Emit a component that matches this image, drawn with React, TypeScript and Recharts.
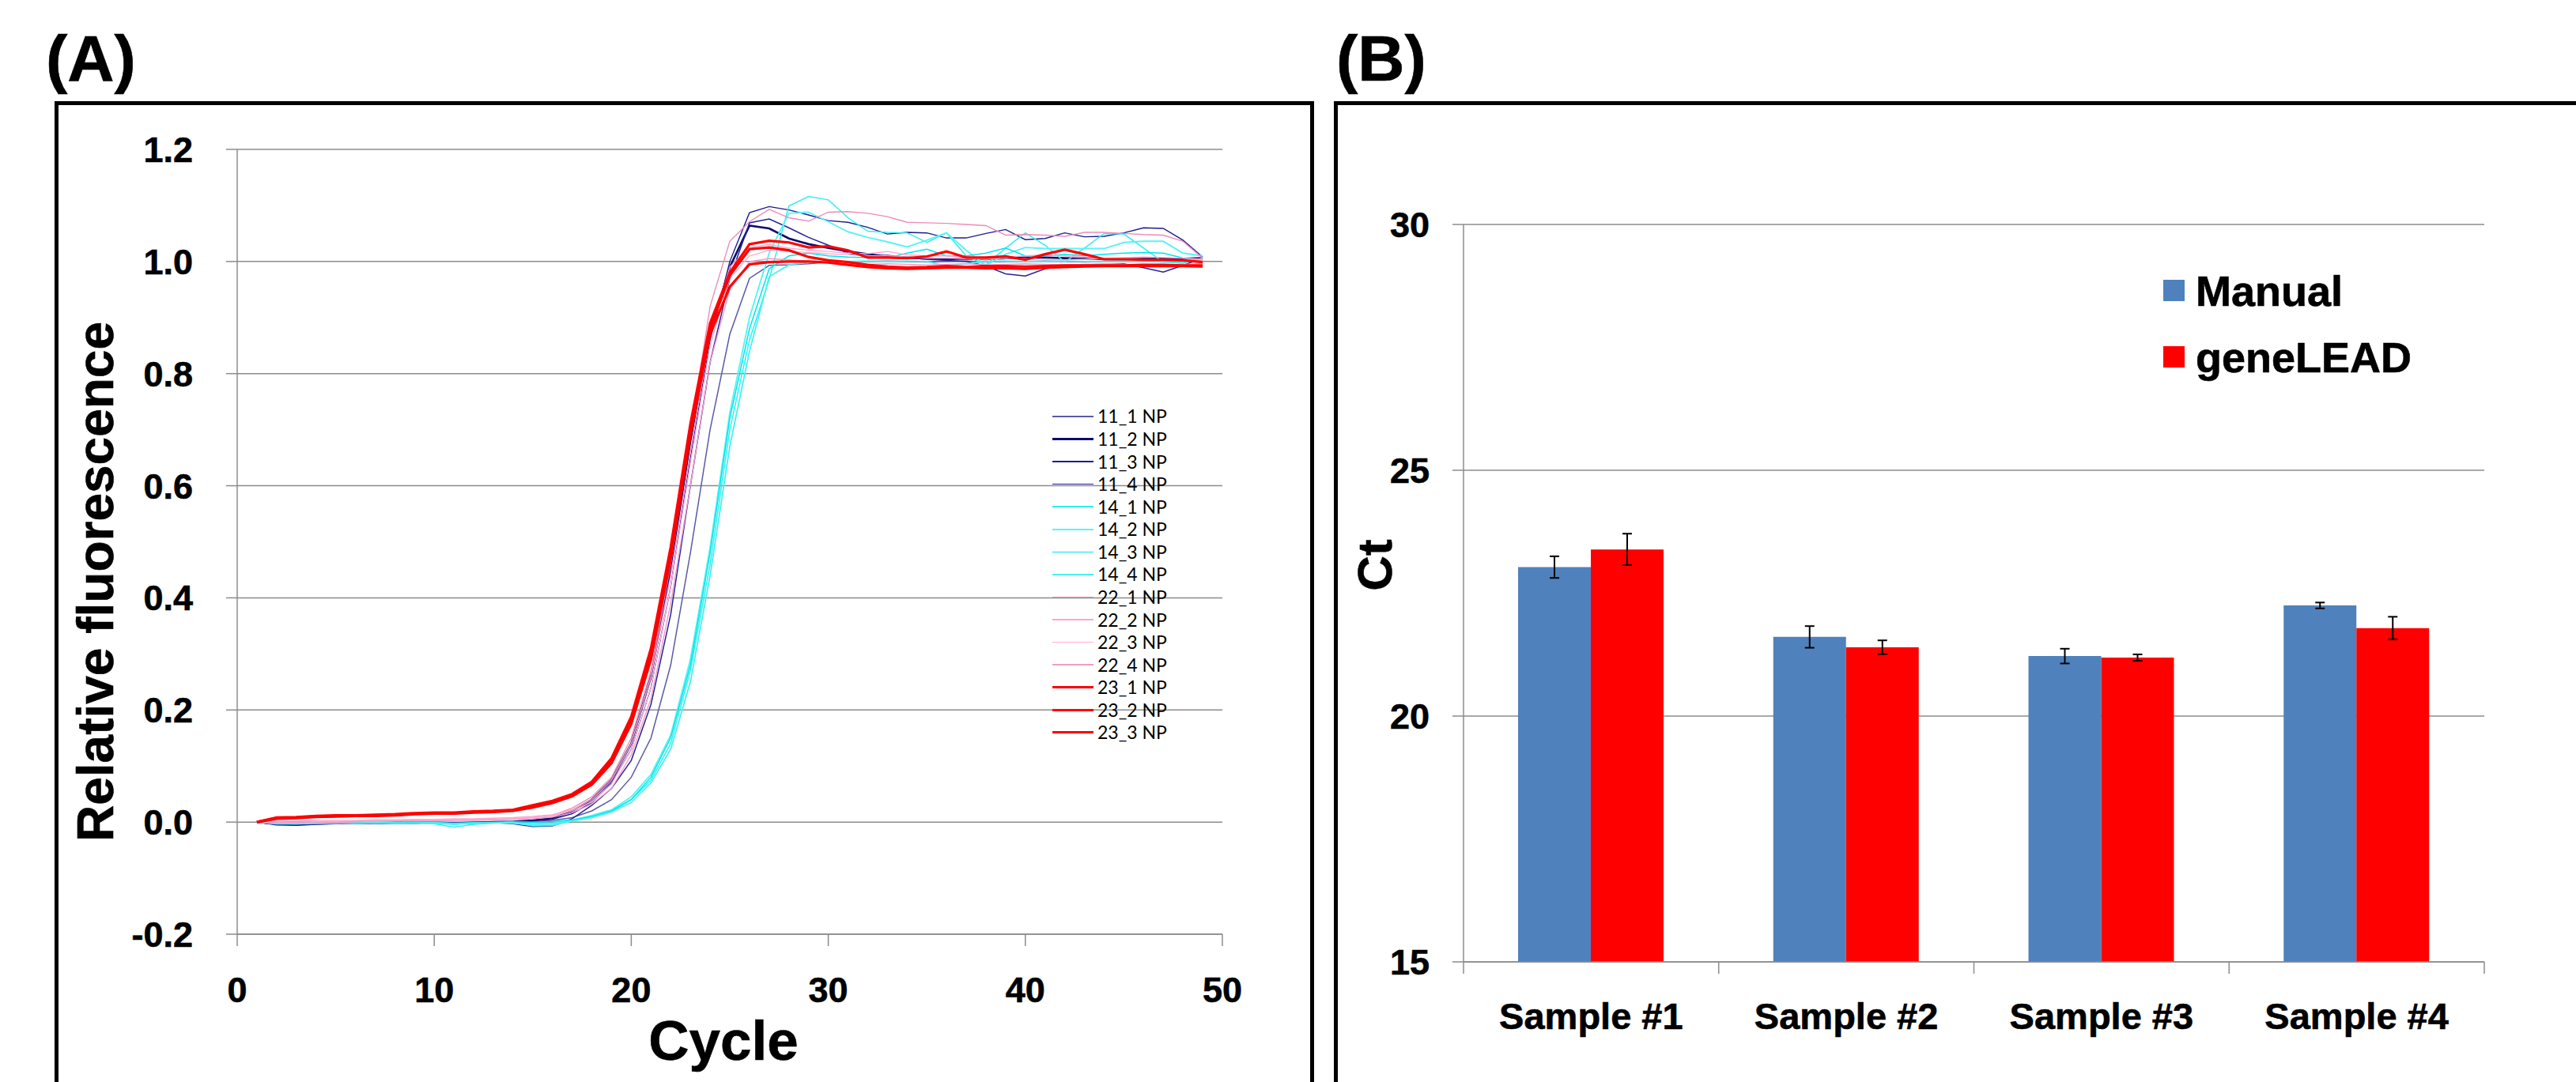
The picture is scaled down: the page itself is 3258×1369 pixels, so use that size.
import { LineChart, Line, XAxis, YAxis, CartesianGrid, BarChart, Bar, ErrorBar } from 'recharts';

const FONT = "'Liberation Sans', Arial, Helvetica, sans-serif";
const GRID = '#8c8c8c';

// ---- (A) amplification curves ----
const cycles = [
  1, 2, 3, 4, 5, 6, 7, 8, 9, 10, 11, 12, 13, 14, 15, 16, 17, 18, 19, 20, 21, 22, 23, 24, 25,
  26, 27, 28, 29, 30, 31, 32, 33, 34, 35, 36, 37, 38, 39, 40, 41, 42, 43, 44, 45, 46, 47, 48, 49,
];

const s11_1 = [
  0, -0.004, -0.005, -0.003, -0.002, -0.003, -0.002, -0.002, -0.001, -0.002,
  -0.003, -0.002, -0.001, 0.0, 0.001, 0.003, 0.008, 0.02, 0.04, 0.08,
  0.15, 0.28, 0.48, 0.7, 0.87, 0.97, 0.993, 0.994, 0.996, 0.999,
  1.0, 1.0, 1.001, 1.0, 0.999, 1.0, 1.001, 0.999, 1.0, 1.0,
  1.001, 1.0, 0.999, 1.0, 1.001, 1.0, 1.0, 1.001, 1.003,
];
const s11_2 = [
  0, -0.003, -0.004, -0.003, -0.002, -0.002, -0.002, -0.001, -0.001, -0.001,
  -0.002, -0.001, 0.0, 0.001, 0.003, 0.007, 0.02, 0.04, 0.075, 0.14,
  0.26, 0.45, 0.68, 0.87, 0.99, 1.064, 1.059, 1.041, 1.031, 1.024,
  1.018, 1.013, 1.009, 1.007, 1.005, 1.004, 1.005, 1.004, 1.006, 1.007,
  1.007, 1.006, 1.005, 1.004, 1.004, 1.005, 1.005, 1.005, 1.006,
];
const s11_3 = [
  0, -0.005, -0.006, -0.004, -0.003, -0.003, -0.003, -0.002, -0.002, -0.001,
  -0.002, -0.003, -0.001, 0.0, 0.002, 0.005, 0.015, 0.035, 0.07, 0.13,
  0.24, 0.42, 0.65, 0.86, 1.0, 1.087, 1.098, 1.092, 1.083, 1.073,
  1.07, 1.061, 1.049, 1.052, 1.051, 1.042, 1.042, 1.05, 1.057, 1.039,
  1.041, 1.051, 1.044, 1.045, 1.051, 1.06, 1.059, 1.038, 1.008,
];
const s11_4 = [
  0, -0.004, -0.004, -0.003, -0.003, -0.002, -0.002, -0.002, -0.002, -0.001,
  -0.001, -0.002, -0.001, -0.003, -0.008, -0.007, 0.006, 0.03, 0.06, 0.11,
  0.21, 0.37, 0.6, 0.82, 0.97, 1.069, 1.076, 1.06, 1.043, 1.029,
  1.015, 1.009, 1.011, 1.007, 1.004, 1.002, 1.0, 0.992, 0.978, 0.974,
  0.987, 0.991, 0.994, 0.995, 0.996, 0.989, 0.981, 0.993, 1.006,
];
const s14_1 = [
  0, -0.002, -0.003, -0.002, -0.002, -0.001, -0.002, -0.001, -0.001, -0.003,
  -0.009, -0.004, -0.002, -0.001, -0.007, -0.006, 0.002, 0.01, 0.02, 0.04,
  0.075, 0.14, 0.27, 0.46, 0.7, 0.86, 0.968, 1.099, 1.116, 1.11,
  1.078, 1.054, 1.052, 1.051, 1.034, 1.051, 1.01, 0.994, 1.024, 1.051,
  1.029, 0.999, 1.024, 1.05, 1.049, 1.024, 0.999, 0.997, 1.006,
];
const s14_2 = [
  0, -0.003, -0.003, -0.002, -0.001, -0.002, -0.002, -0.002, -0.001, -0.002,
  -0.004, -0.002, -0.001, -0.002, -0.005, -0.004, 0.003, 0.012, 0.022, 0.045,
  0.085, 0.155, 0.29, 0.49, 0.73, 0.9, 1.015, 1.086, 1.088, 1.071,
  1.053, 1.043, 1.035, 1.026, 1.038, 1.051, 1.02, 0.993, 1.013, 1.025,
  1.023, 1.023, 1.023, 1.023, 1.034, 1.036, 1.036, 1.015, 1.01,
];
const s14_3 = [
  0, -0.002, -0.002, -0.001, -0.001, -0.001, 0.0, -0.001, 0.0, -0.001,
  -0.002, -0.001, 0.0, 0.001, 0.0, 0.001, 0.004, 0.01, 0.02, 0.04,
  0.08, 0.15, 0.28, 0.48, 0.72, 0.88, 0.987, 1.01, 1.015, 1.01,
  1.008, 1.007, 1.006, 1.015, 1.022, 1.01, 1.01, 1.015, 1.024, 1.01,
  1.01, 1.013, 1.01, 1.013, 1.015, 1.016, 1.015, 1.006, 1.003,
];
const s14_4 = [
  0, -0.002, -0.003, -0.002, -0.002, -0.002, -0.001, -0.002, -0.002, -0.001,
  -0.003, -0.002, -0.001, -0.001, -0.003, -0.002, 0.002, 0.008, 0.018, 0.035,
  0.07, 0.13, 0.25, 0.44, 0.67, 0.84, 0.973, 0.994, 0.999, 1.0,
  1.0, 1.001, 1.0, 1.001, 1.0, 0.992, 0.996, 1.0, 1.001, 1.0,
  1.0, 1.001, 1.0, 1.0, 1.001, 1.0, 0.999, 1.0, 1.002,
];
const s22_1 = [
  0, 0.001, 0.001, 0.0, -0.002, 0.001, 0.002, 0.002, 0.003, 0.003,
  0.004, 0.004, 0.005, 0.006, 0.008, 0.012, 0.025, 0.045, 0.08, 0.15,
  0.27, 0.46, 0.69, 0.92, 1.036, 1.071, 1.093, 1.078, 1.072, 1.088,
  1.089, 1.086, 1.08, 1.07, 1.069, 1.068, 1.066, 1.064, 1.047, 1.048,
  1.047, 1.045, 1.052, 1.052, 1.05, 1.048, 1.047, 1.036, 1.006,
];
const s22_2 = [
  0, 0.002, 0.002, 0.003, 0.003, 0.003, 0.004, 0.004, 0.005, 0.005,
  0.006, 0.006, 0.007, 0.008, 0.01, 0.013, 0.022, 0.04, 0.075, 0.14,
  0.26, 0.44, 0.66, 0.87, 0.99, 1.025, 1.03, 1.024, 1.02, 1.018,
  1.015, 1.014, 1.018, 1.012, 1.01, 1.01, 1.008, 1.006, 1.008, 1.01,
  1.012, 1.01, 1.008, 1.006, 1.007, 1.008, 1.007, 1.006, 1.004,
];
const s22_3 = [
  0, 0.0, -0.001, 0.001, 0.001, 0.002, 0.002, 0.003, 0.003, 0.004,
  0.004, 0.005, 0.005, 0.006, 0.008, 0.011, 0.02, 0.036, 0.068, 0.13,
  0.24, 0.42, 0.64, 0.85, 0.97, 1.01, 1.02, 1.018, 1.016, 1.014,
  1.012, 1.01, 1.01, 1.008, 1.006, 1.006, 1.005, 1.004, 1.006, 1.005,
  1.004, 1.003, 1.004, 1.005, 1.004, 1.003, 1.002, 1.003, 1.002,
];
const s22_4 = [
  0, -0.001, -0.001, 0.0, 0.0, 0.001, 0.001, 0.002, 0.002, 0.002,
  0.003, 0.003, 0.004, 0.005, 0.006, 0.009, 0.017, 0.032, 0.06, 0.12,
  0.22, 0.39, 0.6, 0.82, 0.95, 1.0, 1.005, 1.003, 1.0, 0.998,
  0.996, 0.995, 0.996, 0.995, 0.994, 0.995, 0.996, 0.994, 0.995, 0.996,
  0.995, 0.994, 0.995, 0.996, 0.995, 0.995, 0.994, 0.995, 0.996,
];
const s23_1 = [
  0, 0.008, 0.009, 0.011, 0.012, 0.012, 0.013, 0.014, 0.016, 0.017,
  0.017, 0.019, 0.02, 0.022, 0.03, 0.038, 0.05, 0.072, 0.114, 0.188,
  0.31, 0.49, 0.71, 0.89, 0.98, 1.031, 1.037, 1.034, 1.025, 1.027,
  1.02, 1.007, 1.007, 1.006, 1.009, 1.018, 1.007, 1.007, 1.009, 1.003,
  1.013, 1.021, 1.013, 1.004, 1.004, 1.003, 1.003, 1.002, 0.999,
];
const s23_2 = [
  0, 0.007, 0.008, 0.01, 0.011, 0.012, 0.012, 0.013, 0.015, 0.016,
  0.016, 0.018, 0.019, 0.021, 0.028, 0.036, 0.048, 0.07, 0.11, 0.182,
  0.3, 0.48, 0.7, 0.88, 0.975, 1.022, 1.025, 1.02, 1.008, 1.002,
  0.999, 0.994, 0.991, 0.989, 0.99, 0.992, 0.99, 0.992, 0.992, 0.991,
  0.992, 0.993, 0.993, 0.993, 0.993, 0.994, 0.994, 0.993, 0.993,
];
const s23_3 = [
  0, 0.006, 0.007, 0.009, 0.01, 0.011, 0.011, 0.012, 0.014, 0.015,
  0.015, 0.017, 0.018, 0.02, 0.026, 0.034, 0.046, 0.067, 0.105, 0.175,
  0.29, 0.47, 0.69, 0.87, 0.955, 0.995, 0.999, 1.0, 1.0, 0.998,
  0.994, 0.99, 0.988, 0.987, 0.988, 0.989, 0.989, 0.988, 0.988, 0.987,
  0.989, 0.99, 0.991, 0.992, 0.992, 0.992, 0.992, 0.992, 0.991,
];

const seriesNames = [
  '11_1 NP', '11_2 NP', '11_3 NP', '11_4 NP',
  '14_1 NP', '14_2 NP', '14_3 NP', '14_4 NP',
  '22_1 NP', '22_2 NP', '22_3 NP', '22_4 NP',
  '23_1 NP', '23_2 NP', '23_3 NP',
];
const seriesValues = [
  s11_1, s11_2, s11_3, s11_4,
  s14_1, s14_2, s14_3, s14_4,
  s22_1, s22_2, s22_3, s22_4,
  s23_1, s23_2, s23_3,
];
const seriesColors = [
  '#5a5aa8', '#0c0c6e', '#1c1c8e', '#24249a',
  '#30eef0', '#5cf2f2', '#00e4ee', '#4cf0f0',
  '#ec8cb8', '#ffa4ce', '#ffaed4', '#f39ac6',
  '#ff0000', '#ff0000', '#ff0000',
];
const seriesWidths = [1.5, 2.6, 1.4, 1.5, 1.5, 1.9, 1.5, 1.9, 1.4, 1.4, 1.4, 1.4, 3.2, 3.2, 3.2];

const yTicksA = [-0.2, 0, 0.2, 0.4, 0.6, 0.8, 1.0, 1.2];
const xTicksA = [0, 10, 20, 30, 40, 50];

const curveData = cycles.map((cycle, i) => {
  const row: Record<string, number> = { cycle };
  seriesValues.forEach((vals, j) => {
    row[`s${j}`] = vals[i];
  });
  return row;
});

// ---- (B) Ct comparison ----
const samples = ['Sample #1', 'Sample #2', 'Sample #3', 'Sample #4'];
const manualCt = [23.03, 21.61, 21.22, 22.25];
const manualSd = [0.22, 0.22, 0.15, 0.06];
const geneleadCt = [23.39, 21.4, 21.19, 21.79];
const geneleadSd = [0.32, 0.14, 0.065, 0.23];
const yTicksB = [15, 20, 25, 30];

const barNames = ['Manual', 'geneLEAD'];
const barColors = ['#4f81bd', '#ff0000'];

const ctData = samples.map((sample, i) => ({
  sample,
  manual: manualCt[i],
  manualErr: manualSd[i],
  genelead: geneleadCt[i],
  geneleadErr: geneleadSd[i],
}));

// a thin stroke thickens the bold face a little, like the original's heavy labels
const tickFont = { fill: '#000', fontSize: 45, fontWeight: 700, fontFamily: FONT, stroke: '#000', strokeWidth: 0.6 };

const renderSampleTick = (props: any) => {
  const { x, y, payload, index } = props;
  const half = payload?.offset ?? 0;
  const isLast = index === samples.length - 1;
  return (
    <g>
      <line x1={x - half} y1={y} x2={x - half} y2={y + 15} stroke={GRID} strokeWidth={1.5} />
      {isLast && <line x1={x + half} y1={y} x2={x + half} y2={y + 15} stroke={GRID} strokeWidth={1.5} />}
      <text
        x={x}
        y={y + 85}
        textAnchor="middle"
        fill="#000"
        stroke="#000"
        strokeWidth={0.6}
        fontSize={47}
        fontWeight={700}
        fontFamily={FONT}
      >
        {payload.value}
      </text>
    </g>
  );
};

const heavy = { WebkitTextStroke: '0.6px #000' } as const;

export default function App() {
  return (
    <div
      style={{
        position: 'absolute',
        left: 0,
        top: 0,
        width: 3258,
        height: 1369,
        overflow: 'hidden',
        background: '#fff',
        fontFamily: FONT,
        color: '#000',
      }}
    >
      {/* panel frames */}
      <div style={{ position: 'absolute', left: 69, top: 128, width: 1593, height: 1400, border: '5px solid #000', boxSizing: 'border-box' }} />
      <div style={{ position: 'absolute', left: 1687, top: 128, width: 1700, height: 1400, border: '5px solid #000', boxSizing: 'border-box' }} />

      {/* panel letters */}
      <div style={{ position: 'absolute', left: 58, top: 33, fontSize: 82, lineHeight: '82px', fontWeight: 700, ...heavy }}>(A)</div>
      <div style={{ position: 'absolute', left: 1690, top: 33, fontSize: 82, lineHeight: '82px', fontWeight: 700, ...heavy }}>(B)</div>

      {/* (A) */}
      <div style={{ position: 'absolute', left: 0, top: 0 }}>
        <LineChart width={1600} height={1369} data={curveData} margin={{ top: 189, right: 54, bottom: 87, left: 150 }}>
          <CartesianGrid vertical={false} stroke={GRID} strokeWidth={1.5} />
          <XAxis
            dataKey="cycle"
            type="number"
            domain={[0, 50]}
            ticks={xTicksA}
            height={100}
            tickSize={15}
            tickMargin={39}
            axisLine={{ stroke: GRID, strokeWidth: 1.5 }}
            tickLine={{ stroke: GRID, strokeWidth: 1.5 }}
            tick={tickFont}
          />
          <YAxis
            type="number"
            domain={[-0.2, 1.2]}
            ticks={yTicksA}
            tickFormatter={(v: number) => v.toFixed(1)}
            width={150}
            tickSize={14}
            tickMargin={42}
            axisLine={{ stroke: GRID, strokeWidth: 1.5 }}
            tickLine={{ stroke: GRID, strokeWidth: 1.5 }}
            tick={tickFont}
          />
          {seriesNames.map((name, j) => (
            <Line
              key={name}
              name={name}
              type="linear"
              dataKey={`s${j}`}
              stroke={seriesColors[j]}
              strokeWidth={seriesWidths[j]}
              dot={false}
              activeDot={false}
              isAnimationActive={false}
            />
          ))}
        </LineChart>
      </div>

      <div
        style={{
          position: 'absolute',
          left: 121,
          top: 736,
          transform: 'translate(-50%, -50%) rotate(-90deg)',
          fontSize: 64,
          lineHeight: '64px',
          fontWeight: 700,
          whiteSpace: 'nowrap',
          ...heavy,
        }}
      >
        Relative fluorescence
      </div>
      <div
        style={{
          position: 'absolute',
          left: 915,
          top: 1281,
          transform: 'translateX(-50%)',
          fontSize: 71,
          lineHeight: '71px',
          fontWeight: 700,
          whiteSpace: 'nowrap',
          ...heavy,
        }}
      >
        Cycle
      </div>

      {/* legend (A) */}
      <div style={{ position: 'absolute', left: 1331, top: 527 - 14.3 }}>
        {seriesNames.map((name, j) => (
          <div key={name} style={{ height: 28.57, display: 'flex', alignItems: 'center' }}>
            <div style={{ width: 52, height: seriesWidths[j], background: seriesColors[j] }} />
            <div style={{ marginLeft: 5, fontFamily: 'Lato, sans-serif', fontSize: 23, lineHeight: '23px', whiteSpace: 'nowrap' }}>
              {name}
            </div>
          </div>
        ))}
      </div>

      {/* (B) */}
      <div style={{ position: 'absolute', left: 1700, top: 0 }}>
        <BarChart width={1500} height={1369} data={ctData} margin={{ top: 284, right: 58, bottom: 32, left: 51 }} barGap={0}>
          <CartesianGrid vertical={false} stroke={GRID} strokeWidth={1.5} />
          <XAxis
            dataKey="sample"
            height={120}
            tickSize={0}
            tickMargin={0}
            tickLine={false}
            interval={0}
            axisLine={{ stroke: GRID, strokeWidth: 1.5 }}
            tick={renderSampleTick}
          />
          <YAxis
            type="number"
            domain={[15, 30]}
            ticks={yTicksB}
            width={100}
            tickSize={14}
            tickMargin={29}
            axisLine={{ stroke: GRID, strokeWidth: 1.5 }}
            tickLine={{ stroke: GRID, strokeWidth: 1.5 }}
            tick={tickFont}
          />
          <Bar dataKey="manual" name={barNames[0]} fill={barColors[0]} barSize={92} isAnimationActive={false}>
            <ErrorBar dataKey="manualErr" width={6} stroke="#000" strokeWidth={2} isAnimationActive={false} />
          </Bar>
          <Bar dataKey="genelead" name={barNames[1]} fill={barColors[1]} barSize={92} isAnimationActive={false}>
            <ErrorBar dataKey="geneleadErr" width={6} stroke="#000" strokeWidth={2} isAnimationActive={false} />
          </Bar>
        </BarChart>
      </div>

      <div
        style={{
          position: 'absolute',
          left: 1739,
          top: 715,
          transform: 'translate(-50%, -50%) rotate(-90deg)',
          fontSize: 62,
          lineHeight: '62px',
          fontWeight: 700,
          whiteSpace: 'nowrap',
          ...heavy,
        }}
      >
        Ct
      </div>

      {/* legend (B) */}
      {barNames.map((name, i) => (
        <div key={name}>
          <div style={{ position: 'absolute', left: 2736, top: 354 + i * 84, width: 27, height: 27, background: barColors[i] }} />
          <div
            style={{
              position: 'absolute',
              left: 2777,
              top: 367 + i * 84 - 26.4,
              fontSize: 54,
              lineHeight: '54px',
              fontWeight: 700,
              whiteSpace: 'nowrap',
              ...heavy,
            }}
          >
            {name}
          </div>
        </div>
      ))}
    </div>
  );
}
